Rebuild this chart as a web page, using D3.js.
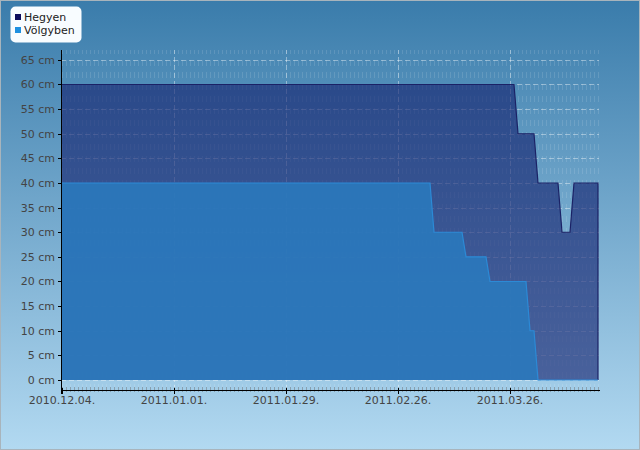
<!DOCTYPE html>
<html>
<head>
<meta charset="utf-8">
<script src="https://cdn.jsdelivr.net/npm/d3@7"></script>
<style>
  body { margin: 0; }
  svg { display: block; font-family: "DejaVu Sans", sans-serif; }
</style>
</head>
<body>
<svg width="640" height="450"></svg>
<script>
// snow depth, points where the value changes (linear between them)
var hegyenDates = ["2010.12.04", "2011.03.27", "2011.03.28", "2011.04.01", "2011.04.02",
    "2011.04.07", "2011.04.08", "2011.04.10", "2011.04.11", "2011.04.17"];
var hegyenValues = [60, 60, 50, 50, 40, 40, 30, 30, 40, 40];

var volgybenDates = ["2010.12.04", "2011.03.06", "2011.03.07", "2011.03.14", "2011.03.15",
    "2011.03.20", "2011.03.21", "2011.03.30", "2011.03.31", "2011.04.01", "2011.04.02", "2011.04.17"];
var volgybenValues = [40, 40, 30, 30, 25, 25, 20, 20, 10, 10, 0, 0];

var xTickDates = ["2010.12.04", "2011.01.01", "2011.01.29", "2011.02.26", "2011.03.26"];
var yTicks = [0, 5, 10, 15, 20, 25, 30, 35, 40, 45, 50, 55, 60, 65];

var seriesNames = ["Hegyen", "Völgyben"];

var parse = d3.timeParse("%Y.%m.%d");
var fmt = d3.timeFormat("%Y.%m.%d.");

function toPoints(dates, values) {
    return dates.map(function(d, i) { return { date: parse(d), value: values[i] }; });
}
var hegyen = toPoints(hegyenDates, hegyenValues);
var volgyben = toPoints(volgybenDates, volgybenValues);

var svg = d3.select("svg"),
    width = +svg.attr("width"),
    height = +svg.attr("height");

var defs = svg.append("defs");
var grad = defs.append("linearGradient")
    .attr("id", "bg").attr("x1", 0).attr("y1", 0).attr("x2", 0).attr("y2", 1);
grad.append("stop").attr("offset", "0%").attr("stop-color", "#3a7cab");
grad.append("stop").attr("offset", "100%").attr("stop-color", "#b2d9f1");

svg.append("rect")
    .attr("x", 0.5).attr("y", 0.5)
    .attr("width", width - 1).attr("height", height - 1)
    .attr("fill", "url(#bg)")
    .attr("stroke", "#a8b4bc");

var plotLeft = 61, plotRight = 599, plotTop = 50, plotBottom = 390;

var x = d3.scaleTime()
    .domain([parse("2010.12.04"), parse("2011.04.17")])
    .range([62, 598]);
var y = d3.scaleLinear()
    .domain([-2.03, 67])
    .range([plotBottom, plotTop]);

// minor daily grid
var days = d3.timeDay.range(parse("2010.12.04"), d3.timeDay.offset(parse("2011.04.17"), 1));
svg.append("g")
    .selectAll("line")
    .data(days)
    .enter().append("line")
    .attr("x1", function(d) { return Math.round(x(d)) + 0.5; })
    .attr("x2", function(d) { return Math.round(x(d)) + 0.5; })
    .attr("y1", plotBottom)
    .attr("y2", plotTop)
    .attr("stroke", "#ffffff")
    .attr("stroke-opacity", 0.12)
    .attr("stroke-dasharray", "6,6");

// major grid
svg.append("g")
    .selectAll("line")
    .data(yTicks)
    .enter().append("line")
    .attr("x1", plotLeft)
    .attr("x2", plotRight)
    .attr("y1", function(d) { return Math.round(y(d)) + 0.5; })
    .attr("y2", function(d) { return Math.round(y(d)) + 0.5; })
    .attr("stroke", "#ffffff")
    .attr("stroke-opacity", 0.4)
    .attr("stroke-dasharray", "5,3");

svg.append("g")
    .selectAll("line")
    .data(xTickDates.slice(1))
    .enter().append("line")
    .attr("x1", function(d) { return Math.round(x(parse(d))) + 0.5; })
    .attr("x2", function(d) { return Math.round(x(parse(d))) + 0.5; })
    .attr("y1", plotBottom)
    .attr("y2", plotTop)
    .attr("stroke", "#ffffff")
    .attr("stroke-opacity", 0.4)
    .attr("stroke-dasharray", "5,3");

var area = d3.area()
    .x(function(d) { return x(d.date); })
    .y0(y(0))
    .y1(function(d) { return y(d.value); });
var line = d3.line()
    .x(function(d) { return x(d.date); })
    .y(function(d) { return y(d.value); });

svg.append("path")
    .datum(hegyen)
    .attr("d", area)
    .attr("fill", "#14206e")
    .attr("fill-opacity", 0.62);
svg.append("path")
    .attr("d", line(hegyen) + "L" + x(hegyen[hegyen.length - 1].date) + "," + y(0))
    .attr("fill", "none")
    .attr("stroke", "#1b2266")
    .attr("stroke-width", 1.2);

svg.append("path")
    .datum(volgyben)
    .attr("d", area)
    .attr("fill", "#2a79bd")
    .attr("fill-opacity", 0.9);
svg.append("path")
    .datum(volgyben)
    .attr("d", line)
    .attr("fill", "none")
    .attr("stroke", "#2c8ad6")
    .attr("stroke-width", 1.2);

// axes
var xAxis = svg.append("g");
xAxis.selectAll(".minor")
    .data(days)
    .enter().append("line")
    .attr("x1", function(d) { return Math.round(x(d)) + 0.5; })
    .attr("x2", function(d) { return Math.round(x(d)) + 0.5; })
    .attr("y1", plotBottom - 3)
    .attr("y2", plotBottom + 2)
    .attr("stroke", "#7a8a96")
    .attr("stroke-opacity", 0.7);
xAxis.append("line")
    .attr("x1", plotLeft).attr("x2", plotRight + 1)
    .attr("y1", plotBottom + 0.5).attr("y2", plotBottom + 0.5)
    .attr("stroke", "#000");
xAxis.selectAll(".major")
    .data(xTickDates)
    .enter().append("line")
    .attr("x1", function(d) { return Math.round(x(parse(d))) + 0.5; })
    .attr("x2", function(d) { return Math.round(x(parse(d))) + 0.5; })
    .attr("y1", plotBottom - 2)
    .attr("y2", plotBottom + 4)
    .attr("stroke", "#000");
xAxis.selectAll("text")
    .data(xTickDates)
    .enter().append("text")
    .attr("x", function(d) { return x(parse(d)); })
    .attr("y", 404)
    .attr("text-anchor", "middle")
    .attr("font-size", "11px")
    .attr("fill", "#444")
    .text(function(d) { return fmt(parse(d)); });

var yAxis = svg.append("g");
yAxis.append("line")
    .attr("x1", plotLeft + 0.5).attr("x2", plotLeft + 0.5)
    .attr("y1", plotTop).attr("y2", plotBottom + 4)
    .attr("stroke", "#000");
yAxis.selectAll(".tick")
    .data(yTicks)
    .enter().append("line")
    .attr("x1", plotLeft - 3)
    .attr("x2", plotLeft + 1)
    .attr("y1", function(d) { return Math.round(y(d)) + 0.5; })
    .attr("y2", function(d) { return Math.round(y(d)) + 0.5; })
    .attr("stroke", "#000");
yAxis.selectAll("text")
    .data(yTicks)
    .enter().append("text")
    .attr("x", 55)
    .attr("y", function(d) { return y(d) + 4; })
    .attr("text-anchor", "end")
    .attr("font-size", "11px")
    .attr("fill", "#444")
    .text(function(d) { return d + " cm"; });

// legend
var legendColors = ["#0d0d5c", "#1e90e0"];
var legend = svg.append("g");
legend.append("rect")
    .attr("x", 10.5).attr("y", 6.5)
    .attr("width", 71).attr("height", 36)
    .attr("rx", 5)
    .attr("fill", "#f8fcff");
var item = legend.selectAll(".item")
    .data(seriesNames)
    .enter().append("g")
    .attr("transform", function(d, i) { return "translate(15," + (14 + i * 13) + ")"; });
item.append("rect")
    .attr("width", 6).attr("height", 6)
    .attr("fill", function(d, i) { return legendColors[i]; });
item.append("text")
    .attr("x", 9)
    .attr("y", 7)
    .attr("font-size", "11px")
    .attr("fill", "#222")
    .text(function(d) { return d; });
</script>
</body>
</html>
